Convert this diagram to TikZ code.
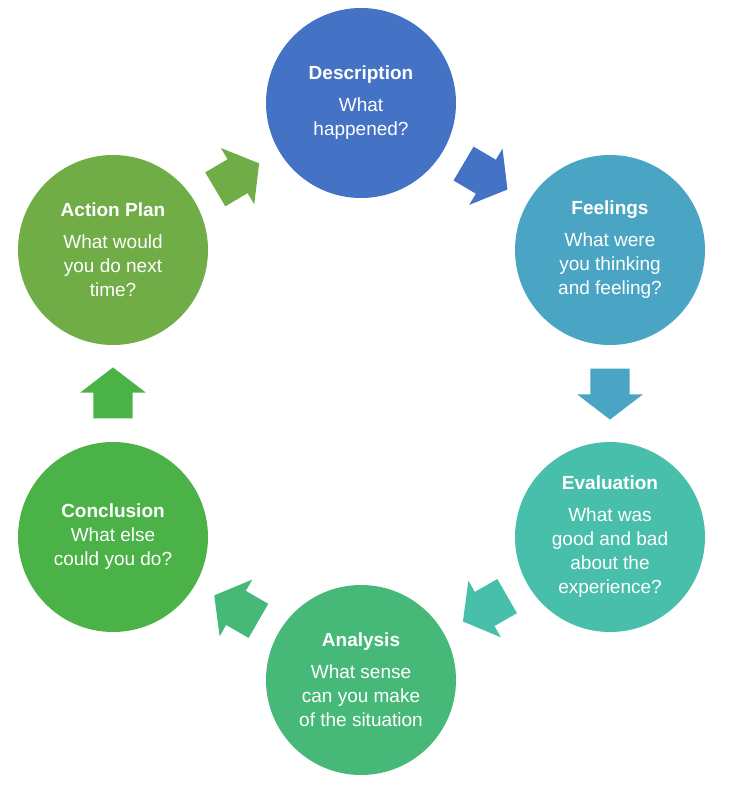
\documentclass[tikz,border=0pt]{standalone}
\usepackage{fontspec}
\setmainfont{Liberation Sans}
\usetikzlibrary{shapes.arrows}
\definecolor{descblue}{HTML}{4472C4}
\definecolor{feelteal}{HTML}{4AA5C4}
\definecolor{evalteal}{HTML}{48BFAA}
\definecolor{anagreen}{HTML}{46B978}
\definecolor{concgreen}{HTML}{4AB247}
\definecolor{actgreen}{HTML}{70AD47}

\begin{document}
\begin{tikzpicture}[x=1pt, y=-1pt,
   stage/.style={circle, minimum size=190pt, inner sep=0pt, text=white, align=center,
     font=\fontsize{19}{24}\selectfont},
   flow/.style={single arrow, minimum height=51pt, minimum width=65pt,
     single arrow head extend=13pt, single arrow tip angle=105,
     inner xsep=0pt, inner ysep=19.5pt, sloped, allow upside down, anchor=tail, pos=0.24}]
   \useasboundingbox (0,0) rectangle (736,786);
   \node (desc) at (361,103) [stage, fill=descblue] {\textbf{Description}\\[8pt]What\\happened?};
   \node (feel) at (610,250) [stage, fill=feelteal] {\textbf{Feelings}\\[8pt]What were\\you thinking\\and feeling?};
   \node (eval) at (610,537) [stage, fill=evalteal] {\textbf{Evaluation}\\[8pt]What was\\good and bad\\about the\\experience?};
   \node (ana) at (361,680) [stage, fill=anagreen] {\textbf{Analysis}\\[8pt]What sense\\can you make\\of the situation};
   \node (conc) at (113,537) [stage, fill=concgreen] {\textbf{Conclusion}\\What else\\could you do?};
   \node (act) at (113,250) [stage, fill=actgreen] {\textbf{Action Plan}\\[8pt]What would\\you do next\\time?};
   \path (desc) -- node[flow, fill=descblue] (a1) {} (feel);
   \path (feel) -- node[flow, fill=feelteal] (a2) {} (eval);
   \path (eval) -- node[flow, fill=evalteal] (a3) {} (ana);
   \path (ana) -- node[flow, fill=anagreen] (a4) {} (conc);
   \path (conc) -- node[flow, fill=concgreen] (a5) {} (act);
   \path (act) -- node[flow, fill=actgreen] (a6) {} (desc);
\end{tikzpicture}
\end{document}
